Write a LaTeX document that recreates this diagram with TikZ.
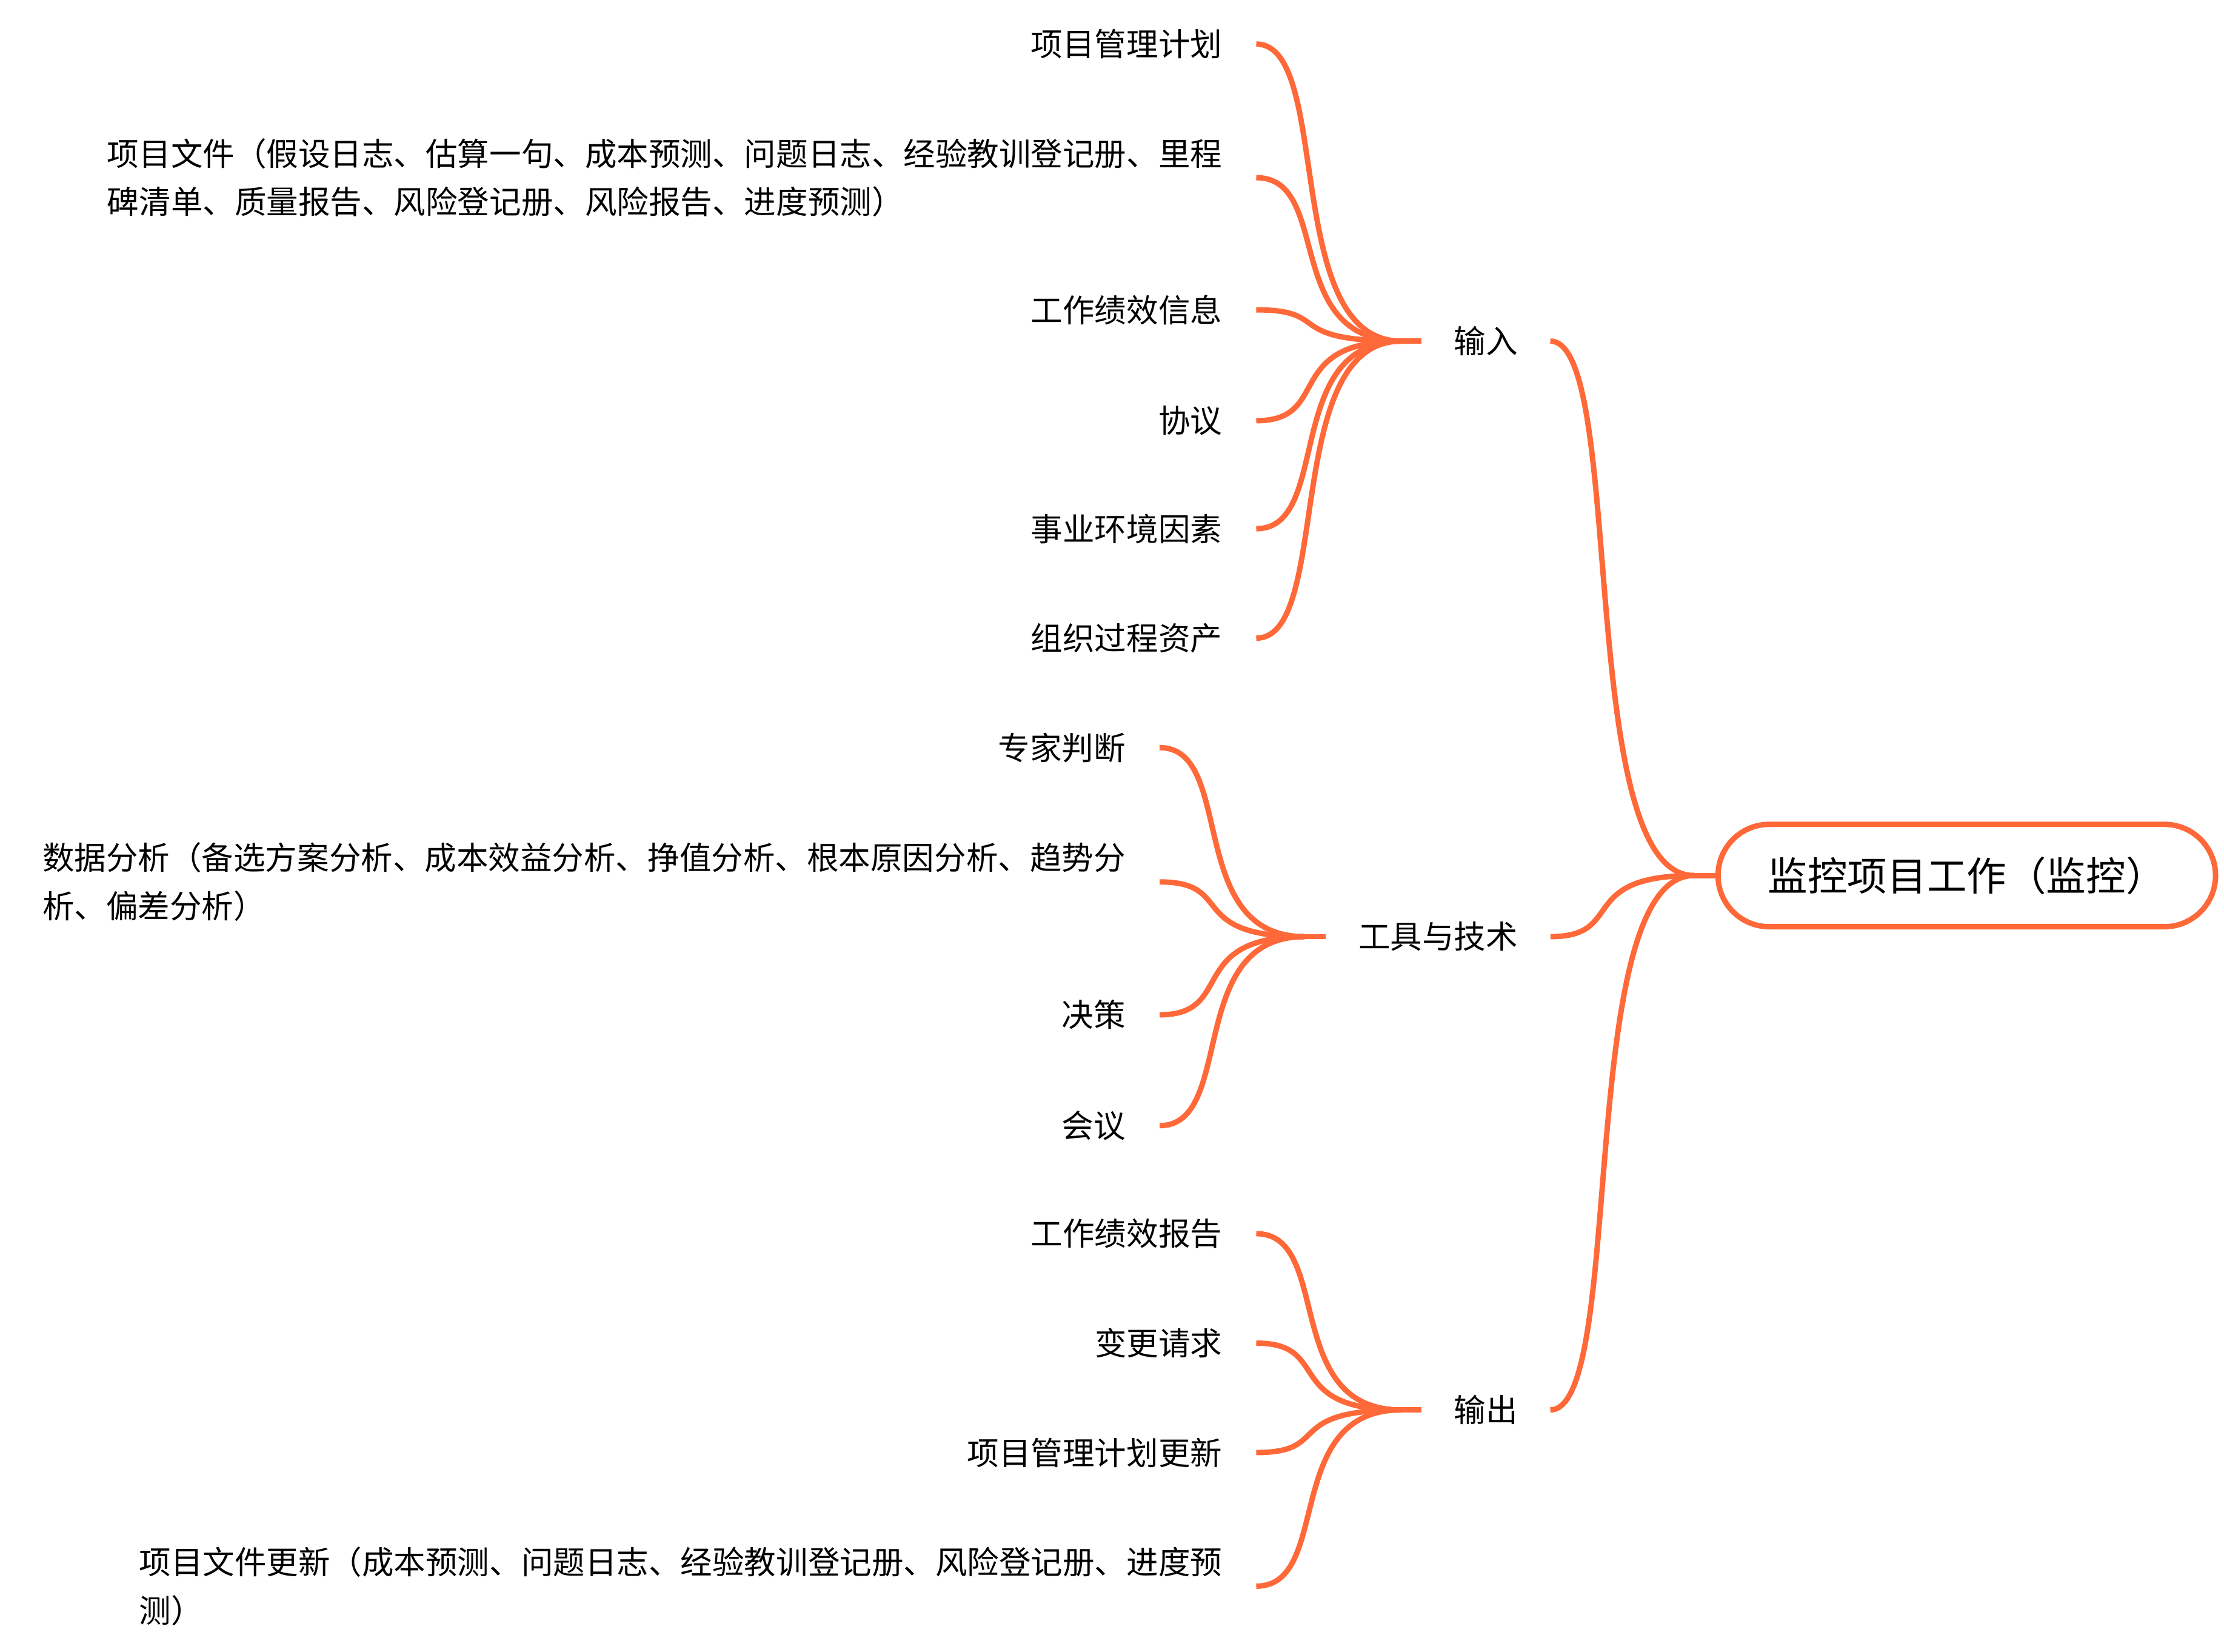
\documentclass[tikz,border=0pt]{standalone}
\usepackage{fontspec}
\setmainfont{Noto Sans CJK SC}
\usetikzlibrary{calc}
\definecolor{mmorange}{HTML}{FF6838}
\tikzset{
  link/.style={draw=mmorange, line width=0.095cm},
  leaf/.style={inner sep=0pt, outer xsep=0.6cm, outer ysep=0pt, anchor=east,
    font=\fontsize{15.94}{24.1}\selectfont, align=left},
  branchnode/.style={inner sep=0pt, outer xsep=0.575cm, outer ysep=0pt,
    font=\fontsize{15.94}{24.1}\selectfont},
  rootnode/.style={draw=mmorange, line width=0.095cm, rounded corners=0.9cm,
    minimum width=8.75cm, minimum height=1.8cm, inner sep=0pt,
    font=\fontsize{19.9}{24}\selectfont},
}
\newcommand{\mmlink}[2]{\draw[link] (#1) .. controls ($(#1)!0.53!(#1 -| #2)$) and ($(#2)!0.83!(#2 -| #1)$) .. (#2);}
\begin{document}
\begin{tikzpicture}[x=0.025cm, y=-0.025cm]
\useasboundingbox (0,0) rectangle (1565,1162.3);

% root
\node[rootnode] (root) at (1384,616) {监控项目工作（监控）};
\coordinate (J0) at (1192,616);

% branches
\node[branchnode] (in) at (1045.5,240) {输入};
\node[branchnode] (tt) at (1012,659) {工具与技术};
\node[branchnode] (out) at (1045.5,992) {输出};
\coordinate (J1) at (986,240);
\coordinate (J2) at (918,659);
\coordinate (J3) at (986,992);

% input leaves
\node[leaf] (i1) at (884,31) {项目管理计划};
\node[leaf] (i2) at (884,125) {项目文件（假设日志、估算一句、成本预测、问题日志、经验教训登记册、里程\\碑清单、质量报告、风险登记册、风险报告、进度预测）};
\node[leaf] (i3) at (884,218) {工作绩效信息};
\node[leaf] (i4) at (884,296) {协议};
\node[leaf] (i5) at (884,372) {事业环境因素};
\node[leaf] (i6) at (884,449) {组织过程资产};

% tools leaves
\node[leaf] (t1) at (816,526) {专家判断};
\node[leaf] (t2) at (816,620.5) {数据分析（备选方案分析、成本效益分析、挣值分析、根本原因分析、趋势分\\析、偏差分析）};
\node[leaf] (t3) at (816,714) {决策};
\node[leaf] (t4) at (816,792) {会议};

% output leaves
\node[leaf] (o1) at (884,868) {工作绩效报告};
\node[leaf] (o2) at (884,945) {变更请求};
\node[leaf] (o3) at (884,1022) {项目管理计划更新};
\node[leaf] (o4) at (884,1116) {项目文件更新（成本预测、问题日志、经验教训登记册、风险登记册、进度预\\测）};

% stubs
\draw[link] (J0) -- (root.west);
\draw[link] (J1) -- (in.west);
\draw[link] (J2) -- (tt.west);
\draw[link] (J3) -- (out.west);

% root to branches
\mmlink{in.east}{J0}
\mmlink{tt.east}{J0}
\mmlink{out.east}{J0}

% branch to leaves
\mmlink{i1.east}{J1}
\mmlink{i2.east}{J1}
\mmlink{i3.east}{J1}
\mmlink{i4.east}{J1}
\mmlink{i5.east}{J1}
\mmlink{i6.east}{J1}
\mmlink{t1.east}{J2}
\mmlink{t2.east}{J2}
\mmlink{t3.east}{J2}
\mmlink{t4.east}{J2}
\mmlink{o1.east}{J3}
\mmlink{o2.east}{J3}
\mmlink{o3.east}{J3}
\mmlink{o4.east}{J3}
\end{tikzpicture}
\end{document}
